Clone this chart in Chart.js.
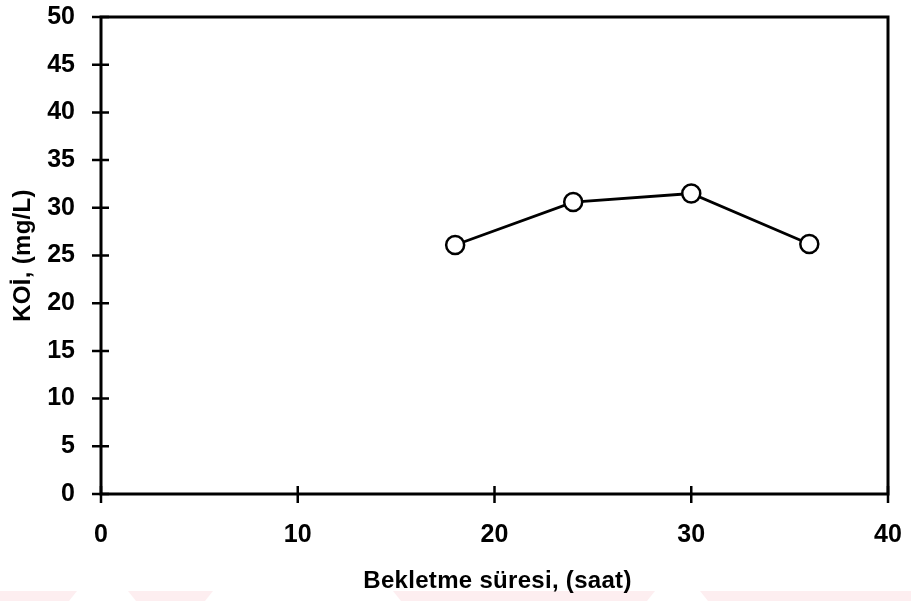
<!DOCTYPE html>
<html>
<head>
<meta charset="utf-8">
<script src="https://cdn.jsdelivr.net/npm/chart.js@4/dist/chart.umd.min.js"></script>
<style>
  html, body { margin: 0; padding: 0; background: #fff; }
  #wrap { width: 911px; height: 601px; }
</style>
</head>
<body>
<div id="wrap"><canvas id="koiChart" width="911" height="601"></canvas></div>
<script>
// retention time (hours) vs COD
const hours = [18, 24, 30, 36];
const koi = [26.1, 30.6, 31.5, 26.2];
const xTicks = [0, 10, 20, 30, 40];
const yTicks = [0, 5, 10, 15, 20, 25, 30, 35, 40, 45, 50];
const xTitle = 'Bekletme süresi, (saat)';
const yTitle = 'KOİ, (mg/L)';

const fontFamily = 'Liberation Sans, Arial, sans-serif';
const tickFont = { family: fontFamily, size: 25, weight: 'bold' };

// white page with faint pink bands along the bottom edge
const backdrop = {
  id: 'backdrop',
  beforeDraw(chart) {
    const { ctx, width, height } = chart;
    ctx.save();
    ctx.fillStyle = '#fff';
    ctx.fillRect(0, 0, width, height);
    ctx.fillStyle = 'rgba(250, 205, 212, 0.35)';
    const bands = [[-10, 77], [128, 213], [393, 655], [700, 920]];
    bands.forEach(([a, b]) => {
      ctx.beginPath();
      ctx.moveTo(a, height - 10);
      ctx.lineTo(b, height - 10);
      ctx.lineTo(b - 8, height);
      ctx.lineTo(a + 8, height);
      ctx.closePath();
      ctx.fill();
    });
    ctx.restore();
  }
};

// box around the plot plus cross-style tick marks
const frame = {
  id: 'frame',
  afterDatasetsDraw(chart) {
    const { ctx, chartArea: a, scales } = chart;
    ctx.save();
    ctx.strokeStyle = '#000';
    ctx.lineWidth = 3;
    ctx.lineCap = 'square';
    ctx.strokeRect(a.left, a.top, a.right - a.left, a.bottom - a.top);
    ctx.lineWidth = 2.5;
    ctx.lineCap = 'butt';
    ctx.beginPath();
    yTicks.forEach((v) => {
      const y = scales.y.getPixelForValue(v);
      ctx.moveTo(a.left - 9, y);
      ctx.lineTo(a.left + 8, y);
    });
    xTicks.forEach((v) => {
      const x = scales.x.getPixelForValue(v);
      ctx.moveTo(x, a.bottom - 8);
      ctx.lineTo(x, a.bottom + 9);
    });
    ctx.stroke();
    ctx.restore();
  }
};

// axis titles, slightly loose spacing
const axisTitles = {
  id: 'axisTitles',
  afterDraw(chart) {
    const { ctx, chartArea: a } = chart;
    ctx.save();
    ctx.fillStyle = '#000';
    ctx.font = 'bold 24px ' + fontFamily;
    ctx.letterSpacing = '0.3px';
    ctx.textAlign = 'center';
    ctx.textBaseline = 'alphabetic';
    ctx.fillText(xTitle, (a.left + a.right) / 2 + 3, 588);
    ctx.translate(30, (a.top + a.bottom) / 2);
    ctx.rotate(-Math.PI / 2);
    ctx.fillText(yTitle, 0, 0);
    ctx.restore();
  }
};

new Chart(document.getElementById('koiChart'), {
  type: 'line',
  data: {
    datasets: [{
      data: hours.map((h, i) => ({ x: h, y: koi[i] })),
      borderColor: '#000',
      borderWidth: 2.8,
      pointRadius: 9,
      pointBorderWidth: 2.5,
      pointBackgroundColor: '#fff',
      pointBorderColor: '#000',
      tension: 0,
      clip: false,
    }],
  },
  options: {
    responsive: false,
    animation: false,
    layout: { padding: { top: 17, right: 23, left: 0, bottom: 0 } },
    plugins: {
      legend: { display: false },
      tooltip: { enabled: false },
    },
    scales: {
      x: {
        type: 'linear',
        min: 0,
        max: 40,
        afterBuildTicks: (s) => { s.ticks = xTicks.map((v) => ({ value: v })); },
        afterFit: (s) => { s.height = 107; s.paddingLeft = 0; s.paddingRight = 0; },
        grid: { display: false, drawTicks: false },
        border: { display: false },
        ticks: { color: '#000', font: tickFont, padding: 26, maxRotation: 0 },
      },
      y: {
        min: 0,
        max: 50,
        afterBuildTicks: (s) => { s.ticks = yTicks.map((v) => ({ value: v })); },
        afterFit: (s) => { s.width = 101; s.paddingTop = 0; s.paddingBottom = 0; },
        grid: { display: false, drawTicks: false },
        border: { display: false },
        ticks: { color: '#000', font: tickFont, padding: 26 },
      },
    },
  },
  plugins: [backdrop, frame, axisTitles],
});
</script>
</body>
</html>
